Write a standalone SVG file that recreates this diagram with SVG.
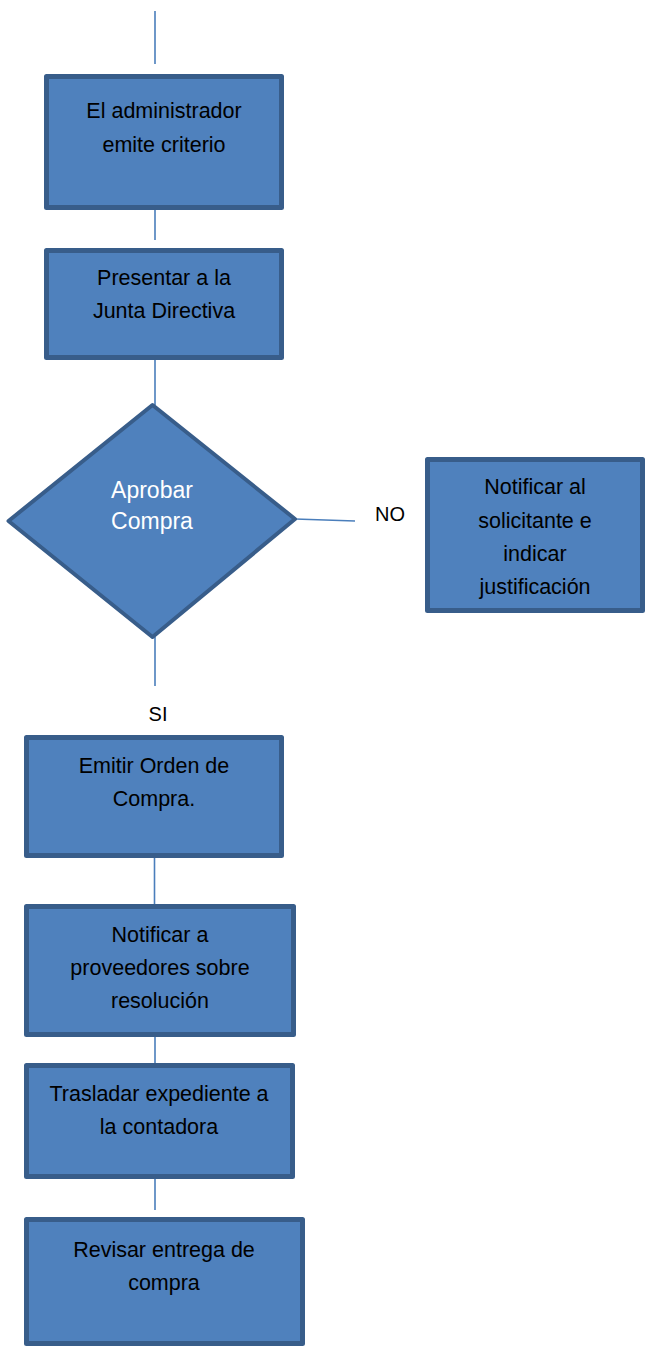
<svg xmlns="http://www.w3.org/2000/svg" width="647" height="1349" viewBox="0 0 647 1349">
<style>
.box{fill:#4f81bd;stroke:#385d8a;stroke-width:5;stroke-linejoin:round}
.dia{fill:#4f81bd;stroke:#385d8a;stroke-width:4;stroke-linejoin:round}
.conn{stroke:#4a7ebb;stroke-width:1.6;fill:none}
.t{font-family:"Liberation Sans",Arial,sans-serif;font-size:21.5px;fill:#000;text-anchor:middle}
.w{font-family:"Liberation Sans",Arial,sans-serif;font-size:23px;fill:#fff;text-anchor:middle}
.lbl{font-family:"Liberation Sans",Arial,sans-serif;font-size:20px;fill:#000;text-anchor:middle}
</style>
<rect width="647" height="1349" fill="#fff"/>
<g id="connectors">
<line class="conn" x1="155" y1="11" x2="155" y2="64"/>
<line class="conn" x1="155" y1="210" x2="155" y2="240"/>
<line class="conn" x1="155" y1="360" x2="155" y2="405"/>
<line class="conn" x1="295" y1="519" x2="355" y2="521"/>
<line class="conn" x1="155" y1="637" x2="155" y2="686"/>
<line class="conn" x1="154.5" y1="858" x2="154.5" y2="904"/>
<line class="conn" x1="155" y1="1036" x2="155" y2="1063"/>
<line class="conn" x1="155" y1="1179" x2="155" y2="1210"/>
</g>
<g id="labels">
<text class="lbl" x="390" y="521">NO</text>
<text class="lbl" x="158" y="721">SI</text>
</g>
<g id="n1">
<rect class="box" x="46.5" y="76.5" width="235" height="131"/>
<text class="t" x="164" y="118">El administrador</text>
<text class="t" x="164" y="152">emite criterio</text>
</g>
<g id="n2">
<rect class="box" x="46.5" y="250.5" width="235" height="107"/>
<text class="t" x="164" y="285">Presentar a la</text>
<text class="t" x="164" y="318">Junta Directiva</text>
</g>
<g id="n3">
<polygon class="dia" points="152.5,405 295,519 152.5,637 8.5,521"/>
<text class="w" x="152" y="498">Aprobar</text>
<text class="w" x="152" y="529">Compra</text>
</g>
<g id="n4">
<rect class="box" x="427.5" y="459.5" width="215" height="151"/>
<text class="t" x="535" y="494">Notificar al</text>
<text class="t" x="535" y="528">solicitante e</text>
<text class="t" x="535" y="561">indicar</text>
<text class="t" x="535" y="594">justificación</text>
</g>
<g id="n5">
<rect class="box" x="26.5" y="737.5" width="255" height="118"/>
<text class="t" x="154" y="773">Emitir Orden de</text>
<text class="t" x="154" y="806">Compra.</text>
</g>
<g id="n6">
<rect class="box" x="26.5" y="906.5" width="267" height="128"/>
<text class="t" x="160" y="942">Notificar a</text>
<text class="t" x="160" y="975">proveedores sobre</text>
<text class="t" x="160" y="1008">resolución</text>
</g>
<g id="n7">
<rect class="box" x="26.5" y="1065.5" width="266" height="111"/>
<text class="t" x="159" y="1101">Trasladar expediente a</text>
<text class="t" x="159" y="1134">la contadora</text>
</g>
<g id="n8">
<rect class="box" x="26.5" y="1219.5" width="276" height="124"/>
<text class="t" x="164" y="1257">Revisar entrega de</text>
<text class="t" x="164" y="1290">compra</text>
</g>
</svg>
